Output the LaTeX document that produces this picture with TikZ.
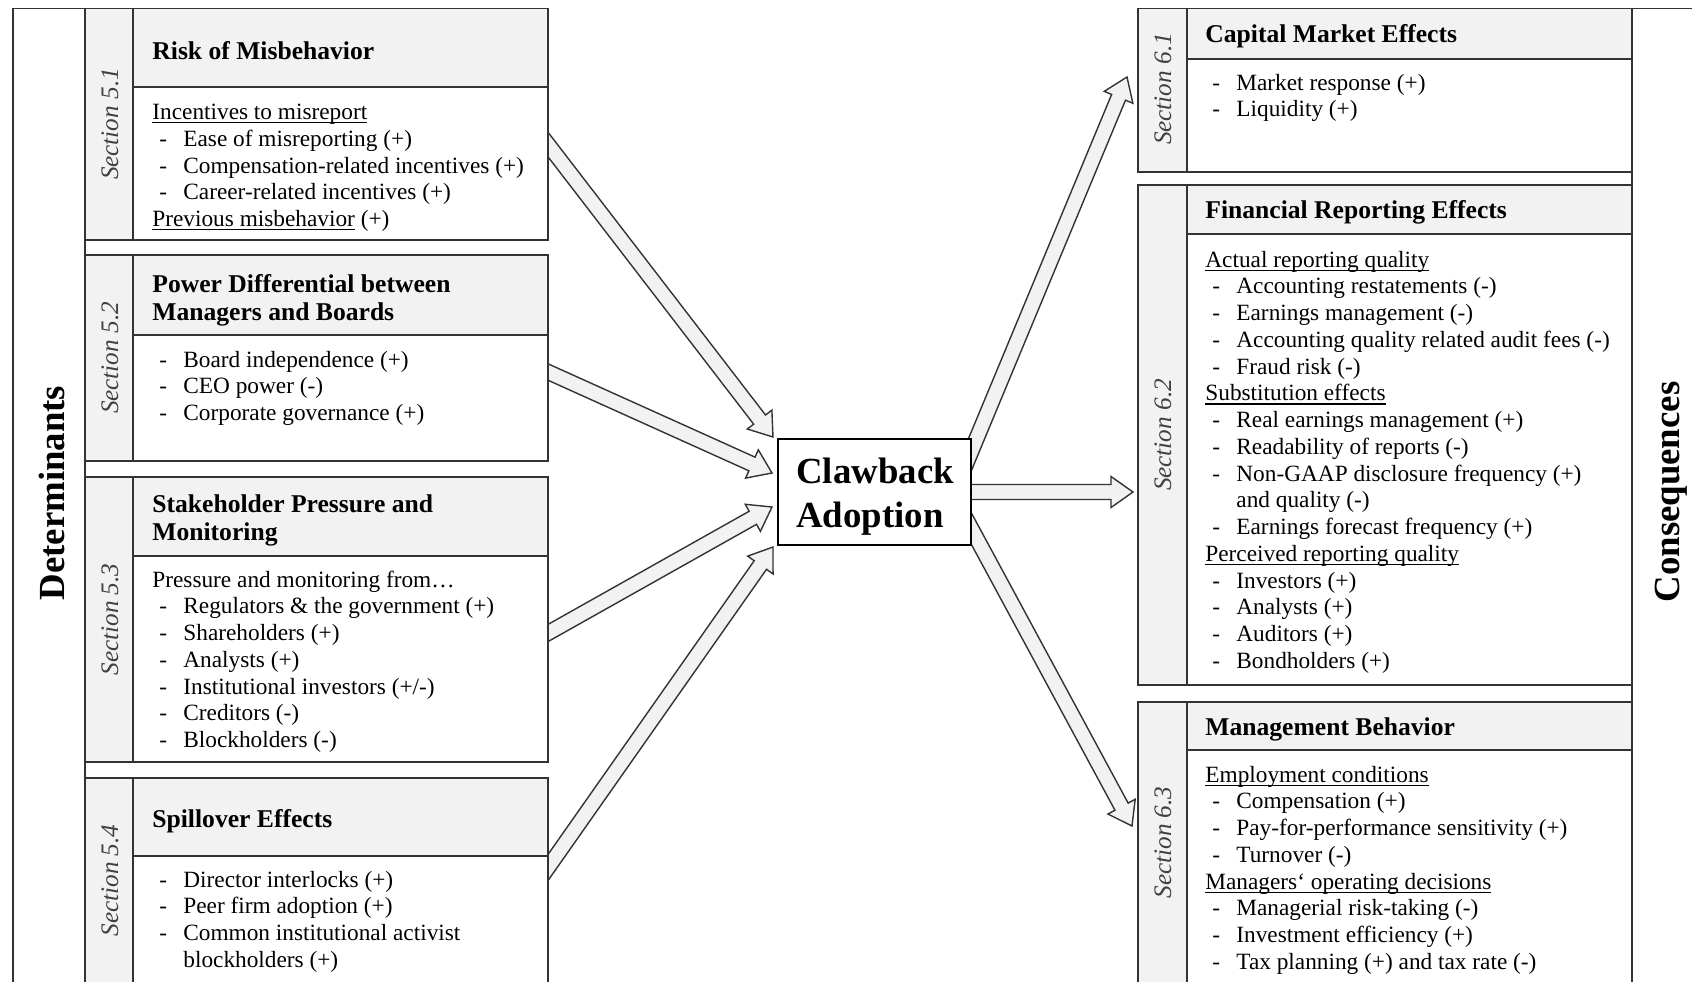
\documentclass[tikz,border=0pt]{standalone}
\usepackage{fontspec}
\setmainfont{Liberation Serif}
\usetikzlibrary{calc}
\definecolor{gfill}{HTML}{F2F2F2}
\definecolor{lcol}{HTML}{333333}
\definecolor{scol}{HTML}{404040}
\pgfdeclarelayer{back}
\pgfdeclarelayer{arrl}
\pgfsetlayers{back,arrl,main}
\newcommand{\itm}[1]{\makebox[15.5pt][l]{\hspace{3.5pt}-}#1}
\newcommand{\cont}[1]{\hspace*{15.5pt}#1}
\newcommand{\uln}[1]{\setbox0\hbox{#1}\rlap{\rule[-1.9pt]{\wd0}{0.55pt}}\box0\relax}
\newcommand{\lines}[1]{\begin{tabular}[t]{@{}l@{}}#1\end{tabular}}
\newcommand{\itemfont}{\fontsize{11.65}{13.375}\selectfont}
\newcommand{\hdrfont}{\fontsize{12.8}{14.3}\selectfont\bfseries}
\newcommand{\secbox}[7]{%
  \fill[white] (#2,#3) rectangle (#4,#5);
  \fill[gfill] (#2,#3) rectangle (#6,#5);
  \fill[gfill] (#6,#3) rectangle (#4,#7);
  \node[boxsty, minimum width={(#4-#2)*0.5pt}, minimum height={(#5-#3)*0.5pt}] (#1) at ({(#2+#4)/2},{(#3+#5)/2}) {};
  \draw[lsty] (#6,#3) -- (#6,#5) (#6,#7) -- (#4,#7);
}
\newcommand{\blockarrow}[2]{%
  \coordinate (bt) at ($(#1)!-12pt!(#2)$);
  \coordinate (bn) at ($(#2)!11pt!(#1)$);
  \filldraw[arr] ($(bt)!3.75pt!90:(#2)$) -- ($(bn)!3.75pt!90:(#2)$) -- ($(bn)!7.75pt!90:(#2)$) -- (#2)
    -- ($(bn)!7.75pt!-90:(#2)$) -- ($(bn)!3.75pt!-90:(#2)$) -- ($(bt)!3.75pt!-90:(#2)$) -- cycle;
}
\begin{document}
\begin{tikzpicture}[x=0.5pt,y=-0.5pt,
  lsty/.style={draw=lcol, line width=0.7pt},
  boxsty/.style={draw=lcol, line width=0.7pt, rectangle, inner sep=0pt, outer sep=0pt},
  arr/.style={fill=gfill, draw=lcol, line width=0.7pt, line join=miter},
  hdr/.style={anchor=base west, inner sep=0pt, font=\hdrfont},
  body/.style={anchor=base west, inner sep=0pt, font=\itemfont},
  sect/.style={rotate=90, inner sep=0pt, font=\fontsize{12.6}{14}\selectfont\itshape, text=scol},
  big/.style={rotate=90, inner sep=0pt, font=\fontsize{18.4}{22}\selectfont\bfseries}
]
\useasboundingbox (0,0) rectangle (1692,981);
\begin{pgfonlayer}{back}
\fill[white] (0,0) rectangle (1692,981);
\end{pgfonlayer}
\clip (0,0) rectangle (1692,981);

% outer frames
\node[boxsty, minimum width={(85-13)*0.5pt}, minimum height={(995-8.5)*0.5pt}] (detf) at (49,501.75) {};
\node[boxsty, minimum width={(1760-1632)*0.5pt}, minimum height={(995-8.5)*0.5pt}] (conf) at (1696,501.75) {};
\node[big] (det) at (52,493) {Determinants};
\node[big] (cons) at (1671,492) {Consequences};

% left boxes
\secbox{b51}{85}{8.5}{548}{240}{133}{87}
\secbox{b52}{85}{255}{548}{461}{133}{335}
\secbox{b53}{85}{477}{548}{762}{133}{556}
\secbox{b54}{85}{778}{548}{983}{133}{856}
% right boxes
\secbox{b61}{1138}{8.5}{1632}{172}{1187}{59}
\secbox{b62}{1138}{185}{1632}{685}{1187}{234}
\secbox{b63}{1138}{702}{1632}{983}{1187}{750}

% section labels
\node[sect] (s51) at (110,124) {Section 5.1};
\node[sect] (s52) at (110,358) {Section 5.2};
\node[sect] (s53) at (110,619.5) {Section 5.3};
\node[sect] (s54) at (110,880.5) {Section 5.4};
\node[sect] (s61) at (1163,89) {Section 6.1};
\node[sect] (s62) at (1163,435) {Section 6.2};
\node[sect] (s63) at (1163,842.5) {Section 6.3};

% headers
\node[hdr] (hd51) at (152,59) {Risk of Misbehavior};
\node[hdr] (hd52) at (152,292) {\lines{Power Differential between\\Managers and Boards}};
\node[hdr] (hd53) at (152,512) {\lines{Stakeholder Pressure and\\Monitoring}};
\node[hdr] (hd54) at (152,827) {Spillover Effects};
\node[hdr] (hd61) at (1205,42) {Capital Market Effects};
\node[hdr] (hd62) at (1205,218) {Financial Reporting Effects};
\node[hdr] (hd63) at (1205,735) {Management Behavior};

% bodies
\node[body] (t51) at (152,119.5) {\lines{\uln{Incentives to misreport}\\
 \itm{Ease of misreporting (+)}\\
 \itm{Compensation-related incentives (+)}\\
 \itm{Career-related incentives (+)}\\
 \uln{Previous misbehavior} (+)}};
\node[body] (t52) at (152,367) {\lines{\itm{Board independence (+)}\\
 \itm{CEO power (-)}\\
 \itm{Corporate governance (+)}}};
\node[body] (t53) at (152,587) {\lines{Pressure and monitoring from…\\
 \itm{Regulators \& the government (+)}\\
 \itm{Shareholders (+)}\\
 \itm{Analysts (+)}\\
 \itm{Institutional investors (+/-)}\\
 \itm{Creditors (-)}\\
 \itm{Blockholders (-)}}};
\node[body] (t54) at (152,887) {\lines{\itm{Director interlocks (+)}\\
 \itm{Peer firm adoption (+)}\\
 \itm{Common institutional activist}\\
 \cont{blockholders (+)}}};
\node[body] (t61) at (1205,90) {\lines{\itm{Market response (+)}\\
 \itm{Liquidity (+)}}};
\node[body] (t62) at (1205,267) {\lines{\uln{Actual reporting quality}\\
 \itm{Accounting restatements (-)}\\
 \itm{Earnings management (-)}\\
 \itm{Accounting quality related audit fees (-)}\\
 \itm{Fraud risk (-)}\\
 \uln{Substitution effects}\\
 \itm{Real earnings management (+)}\\
 \itm{Readability of reports (-)}\\
 \itm{Non-GAAP disclosure frequency (+)}\\
 \cont{and quality (-)}\\
 \itm{Earnings forecast frequency (+)}\\
 \uln{Perceived reporting quality}\\
 \itm{Investors (+)}\\
 \itm{Analysts (+)}\\
 \itm{Auditors (+)}\\
 \itm{Bondholders (+)}}};
\node[body] (t63) at (1205,782) {\lines{\uln{Employment conditions}\\
 \itm{Compensation (+)}\\
 \itm{Pay-for-performance sensitivity (+)}\\
 \itm{Turnover (-)}\\
 \uln{Managers‘ operating decisions}\\
 \itm{Managerial risk-taking (-)}\\
 \itm{Investment efficiency (+)}\\
 \itm{Tax planning (+) and tax rate (-)}}};

% center box
\node[boxsty, draw=black, line width=1.2pt, fill=white, minimum width=96.5pt, minimum height=53pt] (clawback) at (874.5,492) {};
\node[anchor=base west, inner sep=0pt, font=\fontsize{18.4}{22}\selectfont\bfseries] (cbtext) at (796,483) {\lines{Clawback\\Adoption}};

% arrow end points
\coordinate (t1) at (b51.east |- 0,144.5);
\coordinate (t2) at (b52.east |- 0,372);
\coordinate (t3) at (b53.east |- 0,633);
\coordinate (t4) at (b54.east |- 0,867.5);
\coordinate (h1) at ($(clawback.north west)+(-5,-2)$);
\coordinate (h2) at ($(clawback.west)+(-6,-19)$);
\coordinate (h3) at ($(clawback.west)+(-6,15)$);
\coordinate (h4) at ($(clawback.south west)+(-5,2)$);
\coordinate (t5) at (clawback.east |- 0,452);
\coordinate (t6) at (clawback.east);
\coordinate (t7) at (clawback.east |- 0,528);
\coordinate (h5) at ($(b61.west |- 0,77)+(-11,0)$);
\coordinate (h6) at ($(b62.west |- clawback.east)+(-5,0)$);
\coordinate (h7) at ($(b63.west |- 0,826)+(-6,0)$);

\begin{pgfonlayer}{arrl}
\blockarrow{t1}{h1}
\blockarrow{t2}{h2}
\blockarrow{t3}{h3}
\blockarrow{t4}{h4}
\blockarrow{t5}{h5}
\blockarrow{t6}{h6}
\blockarrow{t7}{h7}
\end{pgfonlayer}
\end{tikzpicture}
\end{document}
